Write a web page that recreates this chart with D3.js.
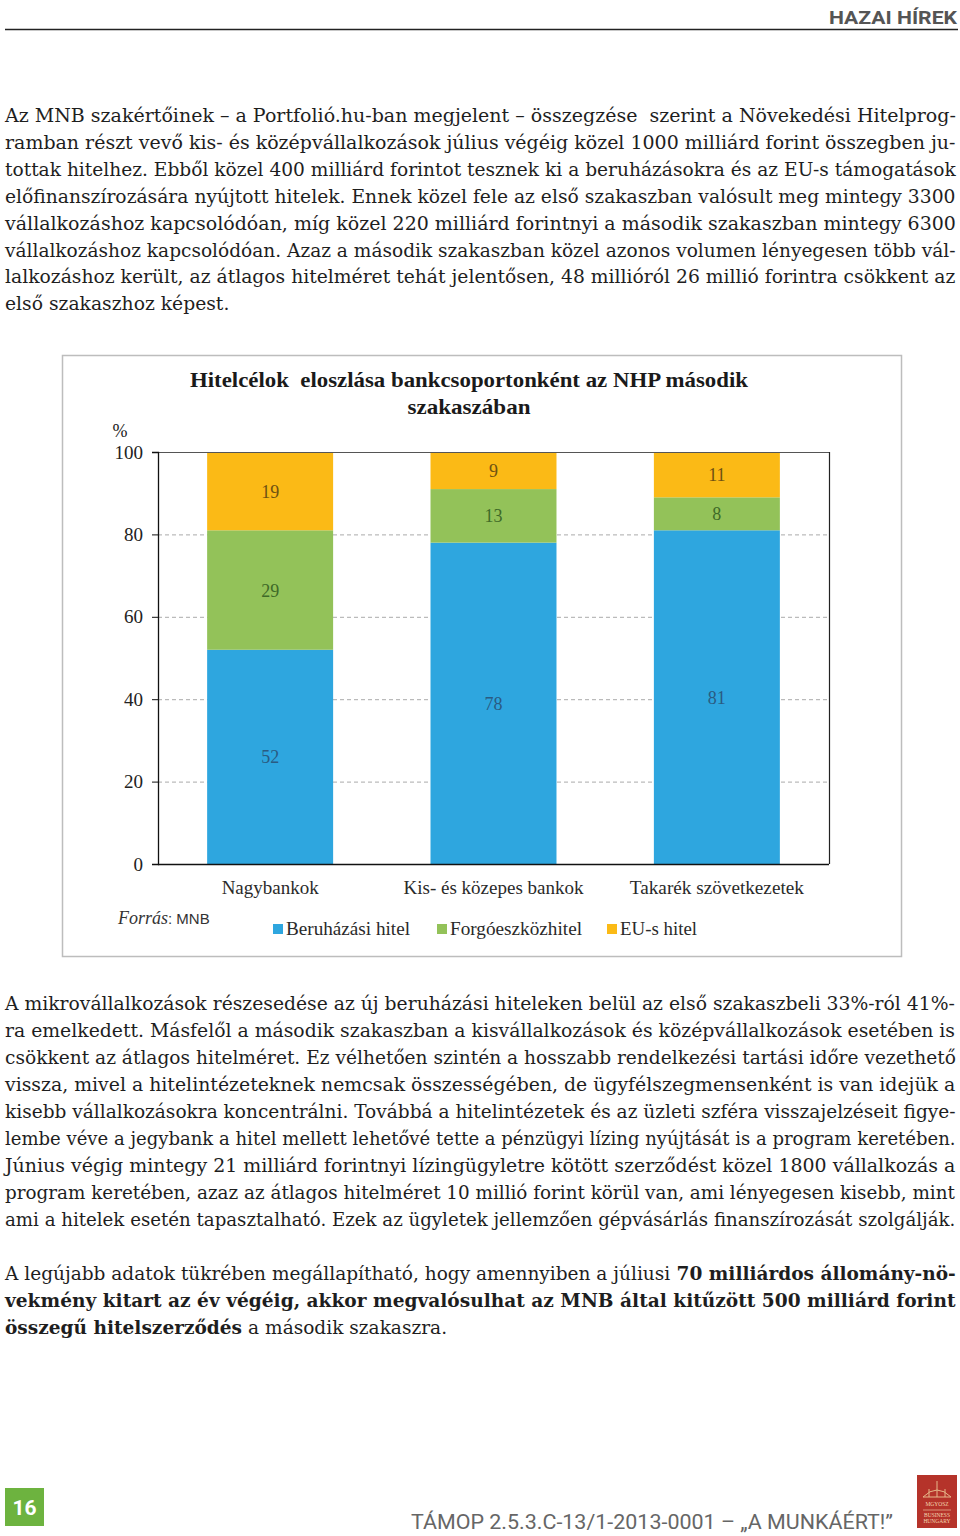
<!DOCTYPE html>
<html><head><meta charset="utf-8">
<script src="https://cdn.jsdelivr.net/npm/d3@7"></script>
<style>
html,body{margin:0;padding:0;background:#fff;}
svg{display:block;}
text{white-space:pre;}
</style></head>
<body>
<svg id="page" width="960" height="1536"></svg>
<script>
// ---------- DATA ----------
const categories = ["Nagybankok", "Kis- és közepes bankok", "Takarék szövetkezetek"];
const seriesNames = ["Beruházási hitel", "Forgóeszközhitel", "EU-s hitel"];
const beruhazasi = [52, 78, 81];
const forgoeszkoz = [29, 13, 8];
const euHitel = [19, 9, 11];
const yTicks = [0, 20, 40, 60, 80, 100];
const seriesColors = ["#2EA6DF", "#93C259", "#FBBA16"];
const labelColors = ["#2a5b82", "#3f6a28", "#6f5212"];
const chartTitle = ["Hitelcélok  eloszlása bankcsoportonként az NHP második", "szakaszában"];

const para1 = [
 [["Az MNB szakértőinek – a Portfolió.hu-ban megjelent – összegzése  szerint a Növekedési Hitelprog-"]],
 [["ramban részt vevő kis- és középvállalkozások július végéig közel 1000 milliárd forint összegben ju-"]],
 [["tottak hitelhez. Ebből közel 400 milliárd forintot tesznek ki a beruházásokra és az EU-s támogatások"]],
 [["előfinanszírozására nyújtott hitelek. Ennek közel fele az első szakaszban valósult meg mintegy 3300"]],
 [["vállalkozáshoz kapcsolódóan, míg közel 220 milliárd forintnyi a második szakaszban mintegy 6300"]],
 [["vállalkozáshoz kapcsolódóan. Azaz a második szakaszban közel azonos volumen lényegesen több vál-"]],
 [["lalkozáshoz került, az átlagos hitelméret tehát jelentősen, 48 millióról 26 millió forintra csökkent az"]],
 [["első szakaszhoz képest."]]
];
const para2 = [
 [["A mikrovállalkozások részesedése az új beruházási hiteleken belül az első szakaszbeli 33%-ról 41%-"]],
 [["ra emelkedett. Másfelől a második szakaszban a kisvállalkozások és középvállalkozások esetében is"]],
 [["csökkent az átlagos hitelméret. Ez vélhetően szintén a hosszabb rendelkezési tartási időre vezethető"]],
 [["vissza, mivel a hitelintézeteknek nemcsak összességében, de ügyfélszegmensenként is van idejük a"]],
 [["kisebb vállalkozásokra koncentrálni. Továbbá a hitelintézetek és az üzleti szféra visszajelzéseit figye-"]],
 [["lembe véve a jegybank a hitel mellett lehetővé tette a pénzügyi lízing nyújtását is a program keretében."]],
 [["Június végig mintegy 21 milliárd forintnyi lízingügyletre kötött szerződést közel 1800 vállalkozás a"]],
 [["program keretében, azaz az átlagos hitelméret 10 millió forint körül van, ami lényegesen kisebb, mint"]],
 [["ami a hitelek esetén tapasztalható. Ezek az ügyletek jellemzően gépvásárlás finanszírozását szolgálják."]]
];
const para3 = [
 [["A legújabb adatok tükrében megállapítható, hogy amennyiben a júliusi ", false], ["70 milliárdos állomány-nö-", true]],
 [["vekmény kitart az év végéig, akkor megvalósulhat az MNB által kitűzött 500 milliárd forint", true]],
 [["összegű hitelszerződés", true], [" a második szakaszra.", false]]
];

// ---------- PAGE ----------
const svg = d3.select("#page");
const bodyFont = "'DejaVu Serif', serif";

// header
svg.append("text").attr("x", 957).attr("y", 24).attr("text-anchor", "end")
  .attr("font-family", "Roboto, 'Liberation Sans', sans-serif").attr("font-weight", 700)
  .attr("font-size", 19).attr("fill", "#555").attr("textLength", 128)
  .attr("lengthAdjust", "spacingAndGlyphs").text("HAZAI HÍREK");
svg.append("line").attr("x1", 5).attr("x2", 958).attr("y1", 29.5).attr("y2", 29.5)
  .attr("stroke", "#222").attr("stroke-width", 1.5);

// paragraphs: each line justified by horizontally scaling its segments
function drawParagraph(lines, baseline0, lineH, lastJustified) {
  const left = 5, right = 956, target = right - left;
  const rows = [];
  lines.forEach((segs, i) => {
    const g = svg.append("g");
    const texts = segs.map(s => g.append("text")
      .attr("font-family", bodyFont).attr("font-size", 18.5)
      .attr("font-weight", s[1] ? 700 : 400).attr("fill", "#1e1e1e")
      .attr("x", 0).attr("y", 0).text(s[0]));
    const widths = texts.map(t => t.node().getComputedTextLength());
    rows.push({texts, widths, total: d3.sum(widths), yy: baseline0 + i * lineH});
  });
  const ks = rows.map(r => target / r.total);
  const justifiedKs = ks.filter((k, i) => i < rows.length - 1 || lastJustified);
  const kMed = d3.median(justifiedKs.length ? justifiedKs : [0.92]);
  rows.forEach((r, i) => {
    const k = (i < rows.length - 1 || lastJustified) ? ks[i] : kMed;
    let x = left;
    r.texts.forEach((t, j) => {
      t.attr("transform", `translate(${x},${r.yy}) scale(${k},1)`);
      x += r.widths[j] * k;
    });
  });
}
drawParagraph(para1, 122, 26.9, false);
drawParagraph(para2, 1010, 27, true);
drawParagraph(para3, 1280, 27, false);

// ---------- CHART ----------
svg.append("rect").attr("x", 62.5).attr("y", 355.5).attr("width", 839).attr("height", 601)
  .attr("fill", "#fff").attr("stroke", "#bdbdbd").attr("stroke-width", 1.5);

const titleFont = "'Liberation Serif', 'Times New Roman', serif";
svg.append("text").attr("x", 469).attr("y", 387).attr("text-anchor", "middle")
  .attr("font-family", titleFont).attr("font-weight", 700).attr("font-size", 21)
  .attr("fill", "#1a1a1a").attr("textLength", 558).attr("lengthAdjust", "spacingAndGlyphs")
  .text(chartTitle[0]);
svg.append("text").attr("x", 469).attr("y", 414).attr("text-anchor", "middle")
  .attr("font-family", titleFont).attr("font-weight", 700).attr("font-size", 21)
  .attr("fill", "#1a1a1a").attr("textLength", 123).attr("lengthAdjust", "spacingAndGlyphs")
  .text(chartTitle[1]);

const plotL = 158, plotR = 829, plotT = 452, plotB = 864;
const x = d3.scaleBand().domain(categories).range([plotL, plotR]).paddingInner(0.436).paddingOuter(0.22);
const y = d3.scaleLinear().domain([0, 100]).range([plotB, plotT]);

// gridlines
svg.append("g").selectAll("line").data(yTicks.filter(t => t > 0 && t < 100)).join("line")
  .attr("x1", plotL).attr("x2", plotR).attr("y1", d => y(d) + 0.5).attr("y2", d => y(d) + 0.5)
  .attr("stroke", "#aaa").attr("stroke-width", 1).attr("stroke-dasharray", "4,3");

// stacked bars
const rows = categories.map((c, i) => ({cat: c, s0: beruhazasi[i], s1: forgoeszkoz[i], s2: euHitel[i]}));
const stack = d3.stack().keys(["s0", "s1", "s2"]);
const stacked = stack(rows);
stacked.forEach((layer, li) => {
  const g = svg.append("g");
  g.selectAll("rect").data(layer).join("rect")
    .attr("x", d => x(d.data.cat)).attr("width", x.bandwidth())
    .attr("y", d => y(d[1])).attr("height", d => y(d[0]) - y(d[1]))
    .attr("fill", seriesColors[li]);
  g.selectAll("text").data(layer).join("text")
    .attr("x", d => x(d.data.cat) + x.bandwidth() / 2)
    .attr("y", d => (y(d[0]) + y(d[1])) / 2).attr("dy", "0.36em")
    .attr("text-anchor", "middle").attr("font-family", titleFont).attr("font-size", 18)
    .attr("fill", labelColors[li]).text(d => d[1] - d[0]);
});

// frame lines (top at 100 and right side)
svg.append("line").attr("x1", plotL).attr("x2", plotR).attr("y1", y(100) + 0.5).attr("y2", y(100) + 0.5)
  .attr("stroke", "#555").attr("stroke-width", 1);
svg.append("line").attr("x1", plotR + 0.5).attr("x2", plotR + 0.5).attr("y1", plotT).attr("y2", plotB)
  .attr("stroke", "#222").attr("stroke-width", 1.2);

// y axis
const yAxis = svg.append("g").attr("transform", `translate(${plotL},0)`)
  .call(d3.axisLeft(y).tickValues(yTicks).tickSize(6).tickPadding(9));
yAxis.select(".domain").attr("stroke", "#111").attr("stroke-width", 1.3);
yAxis.selectAll(".tick line").attr("stroke", "#111");
yAxis.selectAll(".tick text").attr("font-family", titleFont).attr("font-size", 19)
  .attr("fill", "#222");
svg.append("text").attr("x", 120).attr("y", 437).attr("text-anchor", "middle")
  .attr("font-family", titleFont).attr("font-size", 18).attr("fill", "#222").text("%");

// x axis
const xAxis = svg.append("g").attr("transform", `translate(0,${plotB})`)
  .call(d3.axisBottom(x).tickSize(0).tickPadding(17));
xAxis.select(".domain").attr("stroke", "#111").attr("stroke-width", 1.3).attr("d", `M${plotL},0.5H${plotR}`);
const xLabelW = [97, 180, 174];
xAxis.selectAll(".tick text").attr("font-family", titleFont).attr("font-size", 19)
  .attr("fill", "#2a2a2a")
  .attr("textLength", (d, i) => xLabelW[i]).attr("lengthAdjust", "spacingAndGlyphs");

// source
const src = svg.append("text").attr("x", 118).attr("y", 924).attr("fill", "#333");
src.append("tspan").attr("font-family", titleFont).attr("font-style", "italic").attr("font-size", 18).text("Forrás");
src.append("tspan").attr("font-family", "'Liberation Sans', sans-serif").attr("font-size", 15).text(": MNB");

// legend
const legendX = [273, 437, 607];
const legendW = [124, 132, 77];
const leg = svg.append("g").selectAll("g").data(seriesNames).join("g")
  .attr("transform", (d, i) => `translate(${legendX[i]},929)`);
leg.append("rect").attr("x", 0).attr("y", -5).attr("width", 10).attr("height", 10)
  .attr("fill", (d, i) => seriesColors[i]);
leg.append("text").attr("x", 13).attr("y", 6).attr("font-family", titleFont).attr("font-size", 19)
  .attr("fill", "#2a2a2a").attr("textLength", (d, i) => legendW[i])
  .attr("lengthAdjust", "spacingAndGlyphs").text(d => d);

// ---------- FOOTER ----------
svg.append("rect").attr("x", 5).attr("y", 1488).attr("width", 39).attr("height", 38).attr("fill", "#6DB33F");
svg.append("text").attr("x", 24.5).attr("y", 1515).attr("text-anchor", "middle")
  .attr("font-family", "Roboto, 'Liberation Sans', sans-serif").attr("font-weight", 700)
  .attr("font-size", 21).attr("fill", "#fff").text("16");
svg.append("text").attr("x", 893).attr("y", 1529).attr("text-anchor", "end")
  .attr("font-family", "Roboto, 'Liberation Sans', sans-serif").attr("font-size", 21)
  .attr("fill", "#666").attr("textLength", 482).attr("lengthAdjust", "spacingAndGlyphs")
  .text("TÁMOP 2.5.3.C-13/1-2013-0001 – „A MUNKÁÉRT!”");

// logo
const logo = svg.append("g").attr("transform", "translate(917,1475)");
logo.append("rect").attr("width", 40).attr("height", 53).attr("fill", "#B5332A");
logo.append("path").attr("d", "M6,22 Q20,8 34,22 M6,22 L34,22 M12,22 L12,14 M28,22 L28,14 M20,22 L20,6")
  .attr("stroke", "#e6b98a").attr("stroke-width", 1).attr("fill", "none");
[["MGYOSZ", 31], ["BUSINESS", 42], ["HUNGARY", 48]].forEach(([t, yy]) =>
  logo.append("text").attr("x", 20).attr("y", yy).attr("text-anchor", "middle")
    .attr("font-family", "'Liberation Serif', serif").attr("font-size", 5.5).attr("fill", "#f3d6b0").text(t));
logo.append("line").attr("x1", 6).attr("x2", 34).attr("y1", 35).attr("y2", 35).attr("stroke", "#f3d6b0").attr("stroke-width", 0.6);
</script>
</body></html>
